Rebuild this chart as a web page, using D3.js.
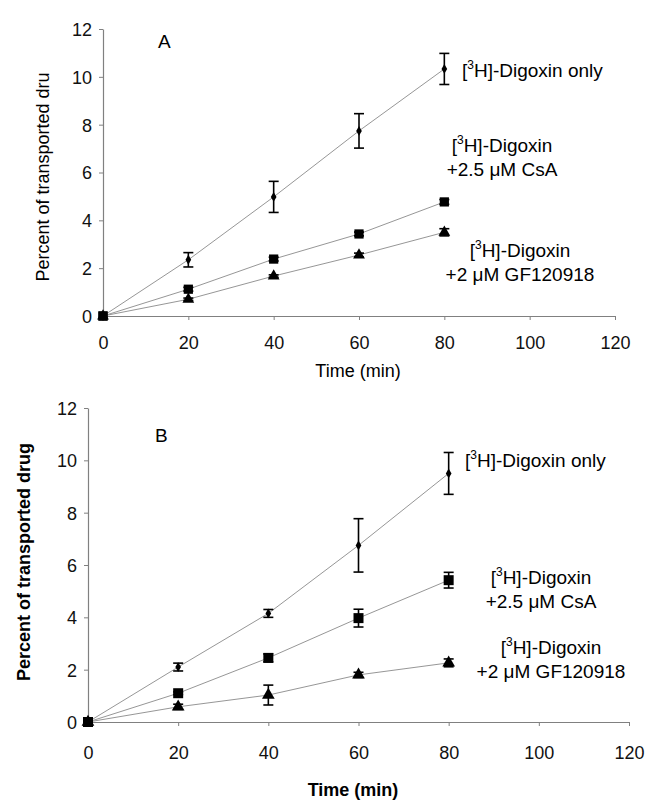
<!DOCTYPE html>
<html>
<head>
<meta charset="utf-8">
<script src="https://cdn.jsdelivr.net/npm/d3@7"></script>
<style>
body{margin:0;background:#fff;}
svg{display:block;font-family:"Liberation Sans",Arial,sans-serif;}
</style>
</head>
<body>
<svg id="chart" width="649" height="800"></svg>
<script>
const times = [0, 20, 40, 60, 80];
const xTicks = [0, 20, 40, 60, 80, 100, 120];
const yTicks = [0, 2, 4, 6, 8, 10, 12];

const aDigoxin = [0, 2.35, 4.98, 7.74, 10.33];
const aDigoxinErr = [0, 0.3, 0.65, 0.72, 0.65];
const aCsA = [0, 1.12, 2.38, 3.43, 4.77];
const aCsAErr = [0, 0.08, 0.08, 0.08, 0.1];
const aGF = [0, 0.7, 1.67, 2.55, 3.5];
const aGFErr = [0, 0.05, 0.05, 0.08, 0.15];

const bDigoxin = [0, 2.1, 4.15, 6.75, 9.5];
const bDigoxinErr = [0, 0.15, 0.15, 1.02, 0.8];
const bCsA = [0, 1.1, 2.45, 3.97, 5.42];
const bCsAErr = [0, 0.05, 0.15, 0.34, 0.3];
const bGF = [0, 0.58, 1.03, 1.8, 2.26];
const bGFErr = [0, 0.1, 0.38, 0.1, 0.15];

const yTitleA = "Percent of transported dru";
const yTitleB = "Percent of transported drug";
const xTitle = "Time (min)";

const svg = d3.select("#chart");

const panels = [
  {
    letter: "A", bold: false, yTitle: yTitleA,
    x0: 103, x1: 615, y0: 316, y1: 29,
    letterPos: [158, 48], yTitlePos: [49, 177], xTitlePos: [358, 377], tickBase: 349,
    series: [
      {vals: aDigoxin, err: aDigoxinErr, sym: "diamond"},
      {vals: aCsA, err: aCsAErr, sym: "square"},
      {vals: aGF, err: aGFErr, sym: "triangle"}
    ],
    labels: [
      {lines: [["3", "H]-Digoxin only"]], x: 462, y: 77, anchor: "start"},
      {lines: [["3", "H]-Digoxin"], [null, "+2.5 \u03bcM CsA"]], x: 502, y: 152, anchor: "middle"},
      {lines: [["3", "H]-Digoxin"], [null, "+2 \u03bcM GF120918"]], x: 520, y: 257, anchor: "middle"}
    ]
  },
  {
    letter: "B", bold: true, yTitle: yTitleB,
    x0: 88, x1: 629, y0: 722, y1: 408,
    letterPos: [155, 442], yTitlePos: [30, 562], xTitlePos: [353, 796], tickBase: 759,
    series: [
      {vals: bDigoxin, err: bDigoxinErr, sym: "diamond"},
      {vals: bCsA, err: bCsAErr, sym: "square"},
      {vals: bGF, err: bGFErr, sym: "triangle"}
    ],
    labels: [
      {lines: [["3", "H]-Digoxin only"]], x: 465, y: 467, anchor: "start"},
      {lines: [["3", "H]-Digoxin"], [null, "+2.5 \u03bcM CsA"]], x: 541, y: 584, anchor: "middle"},
      {lines: [["3", "H]-Digoxin"], [null, "+2 \u03bcM GF120918"]], x: 551, y: 654, anchor: "middle"}
    ]
  }
];

const tickFs = 18;
const labelFs = 19;
const titleFs = 18;

panels.forEach(p => {
  const x = d3.scaleLinear().domain([0, 120]).range([p.x0, p.x1]);
  const y = d3.scaleLinear().domain([0, 12]).range([p.y0, p.y1]);
  const g = svg.append("g");

  const xAxis = d3.axisBottom(x).tickValues(xTicks).tickSize(4).tickPadding(10).tickSizeOuter(0);
  const yAxis = d3.axisLeft(y).tickValues(yTicks).tickSize(4).tickPadding(7).tickSizeOuter(0);
  const gx = g.append("g").attr("transform", `translate(0,${p.y0})`).call(xAxis);
  const gy = g.append("g").attr("transform", `translate(${p.x0},0)`).call(yAxis);
  [gx, gy].forEach(a => {
    a.select(".domain").attr("stroke", "#808080").attr("stroke-width", 1.2);
    a.selectAll(".tick line").attr("stroke", "#808080");
    a.selectAll(".tick text").attr("font-size", tickFs).attr("fill", "#111")
      .attr("font-family", "'Liberation Sans', Arial, sans-serif");
  });
  gx.selectAll(".tick text").attr("dy", null).attr("y", null)
    .attr("transform", `translate(0,${p.tickBase - p.y0})`);
  gy.selectAll(".tick text").attr("dy", "0.36em");

  const line = d3.line().x((d, i) => x(times[i])).y(d => y(d));
  p.series.forEach(s => {
    g.append("path").datum(s.vals).attr("d", line)
      .attr("fill", "none").attr("stroke", "#8a8a8a").attr("stroke-width", 0.9);
  });

  p.series.forEach(s => {
    s.vals.forEach((v, i) => {
      const e = s.err[i];
      if (e <= 0) return;
      const cx = x(times[i]);
      const eg = g.append("g").attr("stroke", "#000").attr("stroke-width", 1.6);
      eg.append("line").attr("x1", cx).attr("x2", cx).attr("y1", y(v - e)).attr("y2", y(v + e));
      eg.append("line").attr("x1", cx - 5).attr("x2", cx + 5).attr("y1", y(v - e)).attr("y2", y(v - e));
      eg.append("line").attr("x1", cx - 5).attr("x2", cx + 5).attr("y1", y(v + e)).attr("y2", y(v + e));
    });
  });

  const symMap = {
    diamond: d3.symbol().type(d3.symbolDiamond).size(28),
    square: d3.symbol().type(d3.symbolSquare).size(p.letter === "A" ? 85 : 100),
    triangle: d3.symbol().type(d3.symbolTriangle).size(p.letter === "A" ? 60 : 70)
  };
  p.series.forEach(s => {
    g.selectAll(null).data(s.vals).enter().append("path")
      .attr("d", symMap[s.sym])
      .attr("transform", (d, i) => `translate(${x(times[i])},${y(d)})`)
      .attr("fill", "#000");
  });
  g.append("path").attr("d", symMap.square)
    .attr("transform", `translate(${x(0)},${y(0)})`).attr("fill", "#000");

  g.append("text").attr("x", p.letterPos[0]).attr("y", p.letterPos[1])
    .attr("font-size", labelFs).attr("fill", "#000").text(p.letter);

  g.append("text").attr("x", p.xTitlePos[0]).attr("y", p.xTitlePos[1])
    .attr("text-anchor", "middle").attr("font-size", titleFs)
    .attr("font-weight", p.bold ? "bold" : "normal").attr("fill", "#000").text(xTitle);
  g.append("text").attr("transform", `translate(${p.yTitlePos[0]},${p.yTitlePos[1]}) rotate(-90)`)
    .attr("text-anchor", "middle").attr("font-size", titleFs)
    .attr("font-weight", p.bold ? "bold" : "normal").attr("fill", "#000").text(p.yTitle);

  p.labels.forEach(l => {
    l.lines.forEach((ln, li) => {
      const t = g.append("text").attr("x", l.x).attr("y", l.y + li * 24)
        .attr("text-anchor", l.anchor).attr("font-size", labelFs).attr("fill", "#000");
      if (ln[0] !== null) {
        t.append("tspan").text("[");
        t.append("tspan").attr("font-size", 12).attr("dy", -8).text(ln[0]);
        t.append("tspan").attr("dy", 8).text(ln[1]);
      } else {
        t.text(ln[1]);
      }
    });
  });
});
</script>
</body>
</html>
